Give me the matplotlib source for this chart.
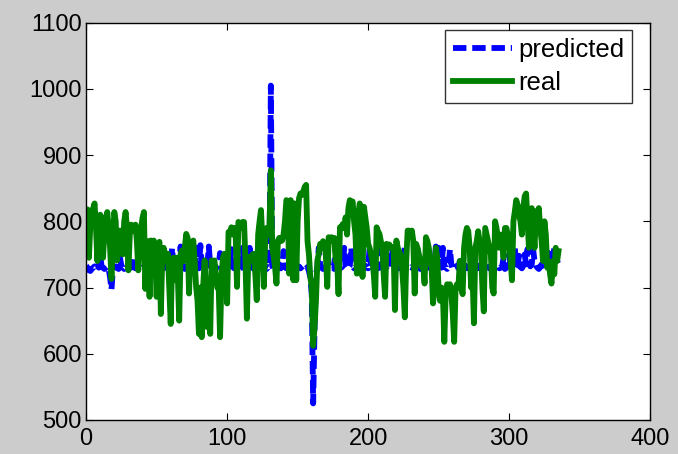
import numpy as np
import matplotlib
matplotlib.use("Agg")
import matplotlib.pyplot as plt

# real values, one row per week
real = [
    815, 818, 745, 795, 805, 820, 827,
    790, 740, 780, 810, 800, 745, 785,
    805, 814, 790, 760, 713, 770, 814,
    800, 741, 770, 786, 770, 750, 800,
    814, 790, 726, 780, 795, 790, 785,
    795, 770, 726, 760, 790, 805, 814,
    698, 760, 770, 686, 771, 760, 771,
    745, 686, 760, 769, 660, 746, 760,
    751, 740, 751, 700, 645, 741, 745,
    711, 745, 720, 650, 751, 756, 740,
    760, 781, 775, 691, 760, 765, 771,
    740, 701, 680, 630, 700, 625, 701,
    741, 700, 640, 690, 630, 741, 735,
    741, 720, 700, 700, 625, 716, 745,
    751, 741, 676, 784, 780, 791, 780,
    790, 785, 701, 799, 795, 790, 799,
    799, 740, 653, 746, 740, 745, 750,
    751, 720, 681, 780, 800, 817, 771,
    701, 770, 790, 780, 790, 877, 760,
    746, 730, 706, 771, 775, 770, 771,
    780, 800, 832, 830, 721, 832, 825,
    711, 827, 711, 800, 835, 842, 840,
    845, 852, 855, 770, 750, 716, 700,
    612, 640, 681, 741, 751, 766, 760,
    770, 765, 750, 701, 776, 770, 776,
    770, 775, 740, 740, 690, 791, 790,
    796, 790, 806, 780, 820, 832, 825,
    830, 800, 780, 721, 810, 827, 820,
    716, 822, 806, 790, 766, 760, 750,
    740, 720, 686, 791, 785, 781, 770,
    760, 720, 686, 766, 760, 765, 761,
    760, 761, 666, 771, 760, 755, 750,
    730, 700, 655, 740, 786, 786, 780,
    786, 770, 691, 766, 760, 750, 740,
    731, 735, 706, 776, 770, 760, 740,
    730, 676, 700, 760, 745, 696, 680,
    700, 690, 618, 690, 705, 700, 705,
    690, 660, 618, 700, 705, 700, 740,
    700, 690, 760, 780, 790, 785, 760,
    700, 720, 646, 760, 770, 785, 770,
    760, 700, 664, 790, 780, 770, 760,
    750, 700, 691, 800, 790, 775, 760,
    780, 770, 745, 790, 790, 780, 770,
    740, 711, 800, 815, 832, 825, 810,
    800, 780, 820, 838, 842, 800, 760,
    810, 820, 790, 760, 815, 810, 820,
    790, 770, 740, 800, 780, 730, 740,
    720, 706, 740, 720, 760, 740, 755,
]

predicted = [
    733, 730, 726, 725, 728, 730, 732,
    730, 735, 730, 748, 732, 730, 728,
    730, 732, 728, 715, 697, 728, 730,
    732, 730, 728, 745, 733, 730, 728,
    730, 731, 729, 733, 730, 745, 731,
    729, 730, 733, 731, 728, 730, 732,
    730, 735, 731, 729, 730, 733, 730,
    732, 728, 731, 755, 730, 728, 731,
    733, 730, 728, 731, 730, 760, 732,
    729, 731, 733, 730, 762, 735, 730,
    728, 731, 733, 764, 735, 729, 731,
    730, 760, 732, 729, 764, 735, 730,
    728, 731, 733, 762, 735, 729, 731,
    730, 728, 733, 735, 752, 731, 729,
    731, 730, 728, 733, 735, 758, 731,
    729, 730, 733, 731, 728, 730, 760,
    732, 729, 730, 731, 760, 733, 730,
    728, 731, 750, 733, 729, 730, 731,
    733, 730, 728, 731, 730, 1005, 732,
    729, 731, 733, 730, 735, 729, 731,
    755, 732, 729, 730, 731, 733, 752,
    730, 728, 731, 733, 730, 729, 731,
    733, 730, 728, 731, 725, 715, 690,
    525, 640, 720, 730, 760, 733, 730,
    728, 731, 733, 762, 735, 729, 731,
    730, 728, 762, 735, 729, 731, 730,
    733, 760, 731, 728, 730, 733, 760,
    732, 729, 730, 731, 733, 758, 730,
    728, 731, 733, 730, 729, 760, 731,
    730, 728, 733, 731, 729, 730, 758,
    732, 729, 730, 731, 733, 730, 728,
    760, 731, 733, 730, 729, 731, 730,
    728, 731, 760, 733, 730, 728, 731,
    730, 733, 729, 731, 758, 730, 728,
    731, 733, 730, 729, 731, 730, 733,
    730, 728, 731, 762, 735, 760, 731,
    730, 760, 733, 730, 728, 731, 758,
    735, 728, 731, 730, 733, 729, 740,
    731, 730, 728, 733, 730, 729, 731,
    733, 730, 728, 731, 730, 733, 729,
    730, 731, 733, 728, 730, 731, 729,
    733, 730, 728, 731, 730, 733, 729,
    730, 731, 745, 728, 730, 733, 750,
    731, 729, 745, 760, 730, 735, 748,
    731, 729, 733, 750, 735, 758, 745,
    732, 735, 757, 740, 733, 730, 728,
    731, 735, 733, 740, 737, 760, 755,
    741, 735, 733, 762, 755, 740, 735,
]

days = np.arange(len(real))

plt.rcParams['font.family'] = ['Liberation Sans', 'DejaVu Sans']

fig = plt.figure(figsize=(6.78, 4.54), dpi=100, facecolor="#cccccc")
ax = fig.add_axes([0.127, 0.075, 0.832, 0.875])
ax.set_facecolor("white")

ax.plot(days, predicted, color=(0, 0, 1), lw=4.2, ls=(0, (2.3, 1.0)), label="predicted")
ax.plot(days, real, color=(0, 0.5, 0), lw=4.2, label="real")

ax.set_xlim(0, 400)
ax.set_ylim(500, 1100)
ax.set_xticks(np.arange(0, 401, 100))
ax.set_yticks(np.arange(500, 1101, 100))
ax.tick_params(direction="in", length=5, width=0.8, labelsize=17, top=True, right=True)
ax.tick_params(axis="y", pad=3)
ax.tick_params(axis="x", pad=6)

for s in ax.spines.values():
    s.set_linewidth(1.0)

leg = ax.legend(loc="upper right", bbox_to_anchor=(0.968, 0.981), fontsize=18.5,
                frameon=True, fancybox=False, edgecolor="black", handlelength=2.3,
                borderaxespad=0.0, handletextpad=0.25, labelspacing=0.35, borderpad=0.3)
leg.get_frame().set_linewidth(1.0)

fig.savefig("out.png", dpi=100, facecolor=fig.get_facecolor())
